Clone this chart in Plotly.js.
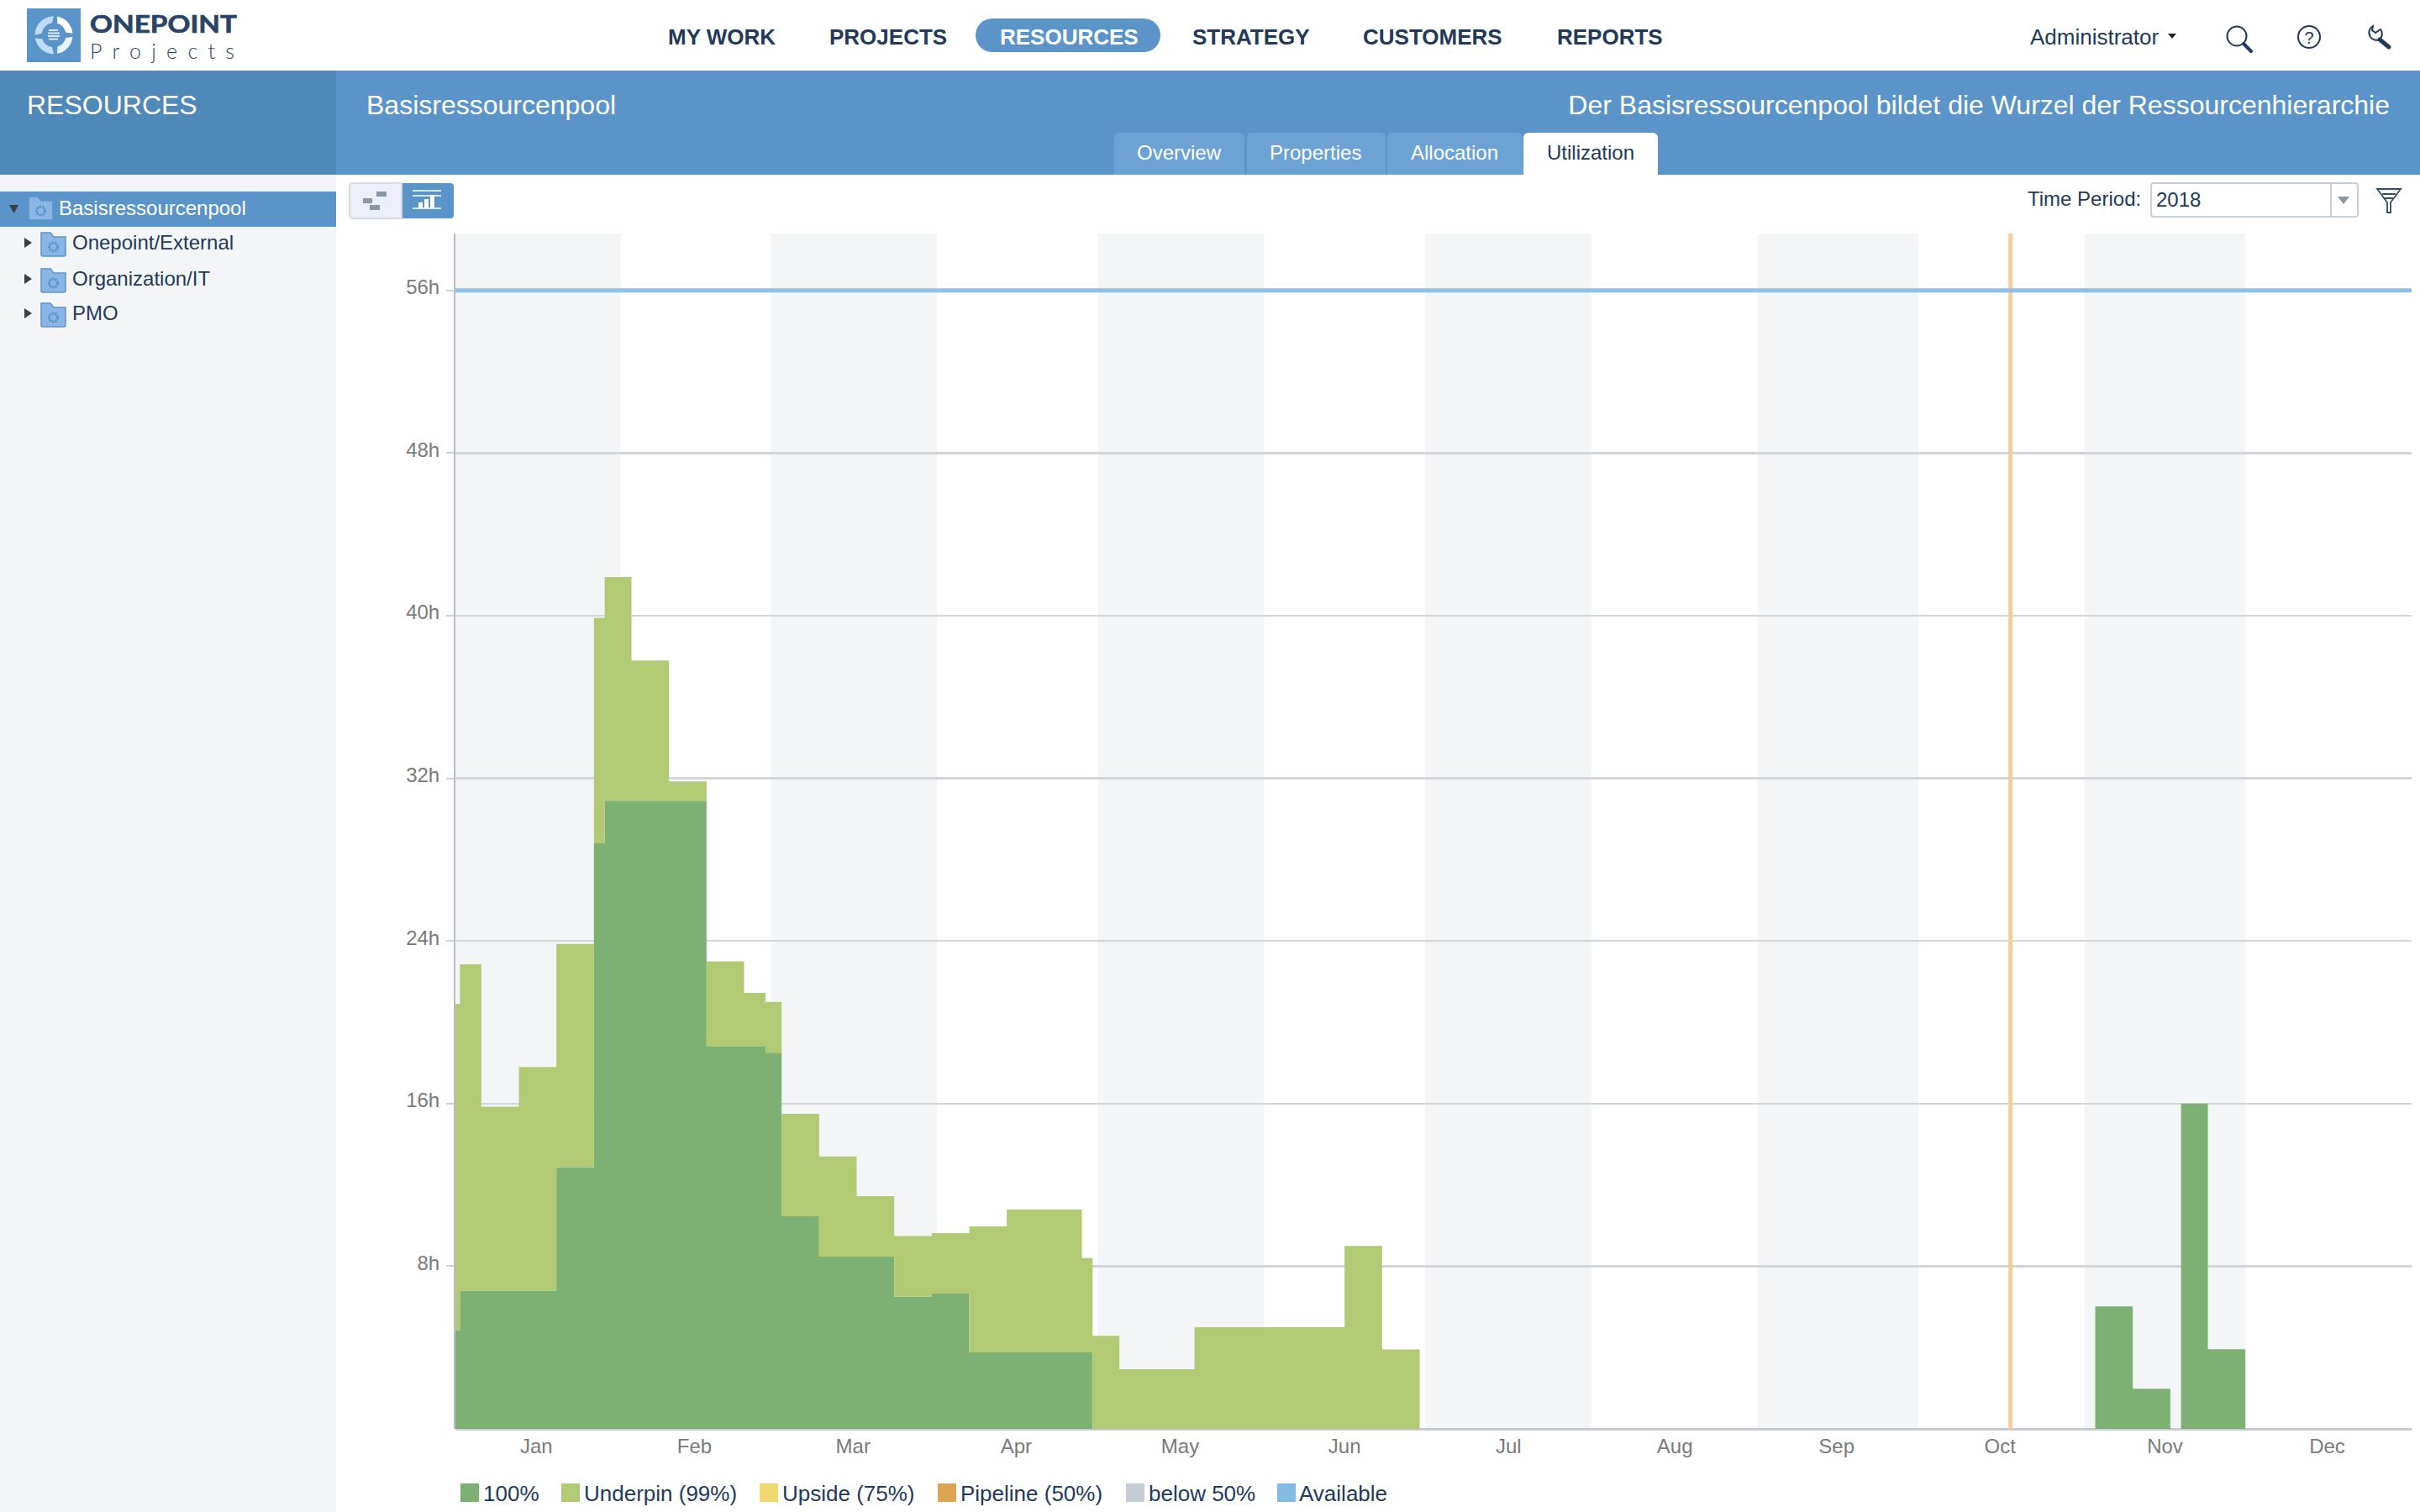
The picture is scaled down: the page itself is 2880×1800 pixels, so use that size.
<!DOCTYPE html>
<html><head><meta charset="utf-8">
<script src="https://cdn.plot.ly/plotly-3.0.1.min.js"></script>
<style>
html,body{margin:0;padding:0;background:#fff}
body{width:2880px;height:1800px;position:relative;overflow:hidden;font-family:"Liberation Sans",Arial,sans-serif;color:#23395b}
.a{position:absolute;white-space:nowrap;line-height:1}
.box{position:absolute}
#chart{position:absolute;left:0;top:0;width:2880px;height:1800px}
svg.chrome{position:absolute;left:0;top:0;pointer-events:none}
</style></head><body>
<div class="box" style="left:0;top:84px;width:400px;height:124px;background:#4f89ba"></div>
<div class="box" style="left:400px;top:84px;width:2480px;height:124px;background:#5b94c8"></div>
<div class="box" style="left:0;top:208px;width:400px;height:1592px;background:#f4f5f7"></div>
<div class="box" style="left:0;top:228px;width:400px;height:42px;background:#5b94c8"></div>
<div class="box" style="left:1161px;top:22px;width:220px;height:40px;border-radius:20px;background:#5b94c8"></div>
<div id="chart"></div>
<div id="chrome"></div>
<svg class="chrome" width="2880" height="1800" viewBox="0 0 2880 1800" id="icons"></svg>
<script>
// ---- chart data ----
const stepDates = ['2018-01-01','2018-01-02','2018-01-06','2018-01-13','2018-01-20','2018-01-27','2018-01-29','2018-02-03','2018-02-10','2018-02-17','2018-02-24','2018-02-28','2018-03-03','2018-03-10','2018-03-17','2018-03-24','2018-03-31','2018-04-07','2018-04-14','2018-04-28','2018-04-30','2018-05-05','2018-05-19','2018-06-16','2018-06-23','2018-06-30','2018-11-03','2018-11-10','2018-11-17','2018-11-19','2018-11-24','2018-12-01'];
const full100 = [4.83,6.8,6.8,6.8,12.87,28.8,30.9,30.9,30.9,18.8,18.8,18.5,10.45,8.47,8.47,6.5,6.65,3.76,3.76,3.76,0,0,0,0,0,0,6.02,1.97,0,16,3.92,0];
const underpin99 = [16.07,16.05,9.05,11,10.98,11.1,11,6.9,0.95,4.2,2.65,2.5,5.05,4.93,2.98,2.98,2.98,6.2,7.04,4.64,4.58,2.93,5,9,3.9,0,0,0,0,0,0,0];
const availableDates = ['2018-01-01','2019-01-01'];
const availableHours = [56,56];
const todayDates = ['2018-10-18 05:00','2018-10-18 05:00'];
const todayHours = [0,58.8];
const hourTicks = [8,16,24,32,40,48,56];
const hourLabels = ['8h','16h','24h','32h','40h','48h','56h'];
const monthTicks = ['2018-01-16 06:00','2018-02-14 18:00','2018-03-16 08:00','2018-04-15 18:00','2018-05-16 08:00','2018-06-16','2018-07-16 14:00','2018-08-16 14:00','2018-09-15 18:00','2018-10-16 06:00','2018-11-16','2018-12-16 06:00'];
const monthLabels = ['Jan','Feb','Mar','Apr','May','Jun','Jul','Aug','Sep','Oct','Nov','Dec'];
const bandStarts = ['2018-01-01','2018-03-01','2018-05-01','2018-07-01','2018-09-01','2018-11-01'];
const bandEnds = ['2018-02-01','2018-04-01','2018-06-01','2018-08-01','2018-10-01','2018-12-01'];
const legendNames = ['100%','Underpin (99%)','Upside (75%)','Pipeline (50%)','below 50%','Available'];
const legendColors = ['#7db073','#b3ca75','#efd970','#dea456','#c5ccd6','#84bbe2'];
const legendSwatchX = [548,668,904,1116,1340,1520];
const legendTextX = [575,695,931,1143,1367,1546];

// ---- application chrome text ----
const navNames = ['MY WORK','PROJECTS','RESOURCES','STRATEGY','CUSTOMERS','REPORTS'];
const navX = [795,987,1190,1419,1622,1853];
const tabNames = ['Overview','Properties','Allocation','Utilization'];
const tabLeft = [1326,1484,1651,1813];
const tabRight = [1481,1649,1812,1973];
const treeNames = ['Onepoint/External','Organization/IT','PMO'];
const treeY = [289,332,373];

const traces = [
 {x:todayDates,y:todayHours,type:'scatter',mode:'lines',name:'Today',line:{color:'#f8cb9a',width:5},showlegend:false},
 {x:stepDates,y:full100,type:'scatter',mode:'lines',name:legendNames[0],stackgroup:'load',line:{shape:'hv',width:0,color:legendColors[0]},fillcolor:legendColors[0],showlegend:false},
 {x:stepDates,y:underpin99,type:'scatter',mode:'lines',name:legendNames[1],stackgroup:'load',line:{shape:'hv',width:0,color:legendColors[1]},fillcolor:legendColors[1],showlegend:false},
 {x:availableDates,y:availableHours,type:'scatter',mode:'lines',name:legendNames[5],line:{color:'#8fc0e6',width:5},showlegend:false}
];
const layout = {
 width:2880,height:1800,paper_bgcolor:'rgba(0,0,0,0)',plot_bgcolor:'rgba(0,0,0,0)',
 margin:{l:542,r:10,t:278,b:98.5,pad:0},showlegend:false,
 font:{family:'"Liberation Sans",Arial,sans-serif',size:24,color:'#7a7a7a'},
 xaxis:{type:'date',range:['2018-01-01 04:00','2019-01-01'],tickmode:'array',tickvals:monthTicks,ticktext:monthLabels,ticks:'',showgrid:false,showline:false,zeroline:false,tickangle:0,tickfont:{size:24,color:'#7a7a7a'},ticklabelstandoff:4},
 yaxis:{range:[0,58.8],tickmode:'array',tickvals:hourTicks,ticktext:hourLabels,ticks:'outside',ticklen:9,tickwidth:2,tickcolor:'#cfd2d6',showgrid:true,gridcolor:'#d2d5da',gridwidth:2.5,showline:true,linecolor:'#b9bcc1',linewidth:2,zeroline:true,zerolinecolor:'#c6cbd3',zerolinewidth:3,tickfont:{size:24,color:'#7a7a7a'},ticklabelstandoff:3,ticklabelshift:-4},
 shapes:bandStarts.map((s,i)=>({type:'rect',xref:'x',yref:'paper',x0:s,x1:bandEnds[i],y0:0,y1:1,fillcolor:'#f4f5f7',line:{width:0},layer:'below'}))
};
Plotly.newPlot('chart',traces,layout,{displayModeBar:false,staticPlot:true});

// ---- chrome helpers ----
const host=document.getElementById('chrome');
function txt(s,x,cy,size,color,opt){opt=opt||{};const d=document.createElement('div');d.className='a';d.textContent=s;
 d.style.cssText+=`font-size:${size}px;color:${color};top:${cy-size/2}px;`+(opt.right!==undefined?`right:${2880-opt.right}px;`:`left:${x}px;`)+(opt.bold?'font-weight:bold;':'')+(opt.extra||'');host.appendChild(d);}
function box(x,y,w,h,css){const d=document.createElement('div');d.className='box';d.style.cssText=`left:${x}px;top:${y}px;width:${w}px;height:${h}px;`+css;host.appendChild(d);}
navNames.forEach((n,i)=>txt(n,navX[i],44,26,n==='RESOURCES'?'#fff':'#23395b',{bold:true}));
txt('Administrator',2416,44,26,'#23395b');
txt('RESOURCES',32,125,32,'#fff');
txt('Basisressourcenpool',436,125,32,'#fff');
txt('Der Basisressourcenpool bildet die Wurzel der Ressourcenhierarchie',0,125,32,'#fff',{right:2844});
tabNames.forEach((n,i)=>{box(tabLeft[i],158,tabRight[i]-tabLeft[i],50,`background:${i===3?'#fff':'#6ca3d4'};border-radius:6px 6px 0 0;`);});
[1353,1511,1679,1841].forEach((x,i)=>txt(tabNames[i],x,182,24,i===3?'#23395b':'#fff'));
txt('Basisressourcenpool',70,248,24,'#fff');
treeNames.forEach((n,i)=>txt(n,86,treeY[i],24,'#23395b'));
txt('Time Period:',2413,237,24,'#23395b');
box(2559,217,244,38,'border:2px solid #c6d0dc;border-radius:4px;background:#fff;');
box(2773,219,2,38,'background:#c6d0dc;');
txt('2018',2566,237.5,24,'#23395b');
legendNames.forEach((n,i)=>{box(legendSwatchX[i],1766,22,22,`background:${legendColors[i]};`);txt(n,legendTextX[i],1778,26,'#23395b');});

// ---- icons ----
function folder(x,y){return `<path d="M${x} ${y+6}v-6h11l4 5h14v21a2 2 0 0 1-2 2h-25a2 2 0 0 1-2-2z" fill="#8ab6e6" stroke="#5b94c8" stroke-width="1.5"/><circle cx="${x+14.5}" cy="${y+17}" r="5" fill="none" stroke="#5b94c8" stroke-width="3" stroke-dasharray="2.500 1"/>`;}
function ringSeg(a0,a1,fill){const c=[64,41.7],R=22.5,r=14.5,p=(ra,an)=>[(c[0]+ra*Math.cos(an*Math.PI/180)).toFixed(2),(c[1]+ra*Math.sin(an*Math.PI/180)).toFixed(2)].join(' ');
 return `<path d="M${p(R,a0)}A${R} ${R} 0 0 1 ${p(R,a1)}L${p(r,a1-8)}A${r} ${r} 0 0 0 ${p(r,a0+8)}Z" fill="${fill}"/>`;}
let g='';
g+=`<rect x="32" y="10" width="64" height="64" fill="#5b94c8"/>`;
g+=ringSeg(-80,-5,'#ffffff')+ringSeg(5,80,'#e6f2fc')+ringSeg(90,170,'#bcdcf7')+ringSeg(180,270,'#bcdcf7');
g+=`<path d="M58 36h11M57 39.500h14M57 43h14M58 46.500h11" stroke="#d7e9f8" stroke-width="2"/>`;
g+=`<text x="107" y="38.500" font-family="Lato,sans-serif" font-weight="700" font-size="29" fill="#2a4466" stroke="#2a4466" stroke-width="0.7" textLength="175" lengthAdjust="spacingAndGlyphs">ONEPOINT</text>`;
g+=`<text x="107" y="69.500" font-family="Lato,sans-serif" font-weight="300" font-size="25" fill="#2f4666" textLength="172">Projects</text>`;
g+=`<path d="M2580 40h10l-5 6z" fill="#222"/>`;
g+=`<circle cx="2662" cy="43" r="11.5" fill="none" stroke="#23395b" stroke-width="2"/><path d="M2670 52l9 9" stroke="#23395b" stroke-width="4" stroke-linecap="round"/>`;
g+=`<circle cx="2748" cy="44" r="13" fill="none" stroke="#23395b" stroke-width="2"/><text x="2748" y="52" font-size="20" text-anchor="middle" fill="#23395b" font-family="Liberation Sans">?</text>`;
g+=`<path d="M2824 31a9 9 0 0 0-3 13 9 9 0 0 0 11 3 9 9 0 0 0 1-12l-6 4-4-3z" fill="none" stroke="#23395b" stroke-width="2"/><path d="M2832 47l11 9" stroke="#23395b" stroke-width="5" stroke-linecap="round"/>`;
g+=`<path d="M11 244h11l-5.500 10z" fill="#3a3f47"/>`;
treeY.forEach(y=>{g+=`<path d="M29 ${y-6}l9 6-9 6z" fill="#3a3f47"/>`;});
g+=folder(34,234);
treeY.forEach(y=>{g+=folder(49,y-12);});
g+=`<path d="M478 218h58a4 4 0 0 1 4 4v34a4 4 0 0 1-4 4h-58z" fill="#5b94c8"/><path d="M478 218h-58a4 4 0 0 0-4 4v34a4 4 0 0 0 4 4h58z" fill="#eceff5" stroke="#d6dbe3" stroke-width="2"/>`;
g+=`<rect x="432" y="236" width="11" height="6" fill="#8a95a5"/><rect x="448" y="228" width="12" height="6" fill="#8a95a5"/><rect x="440" y="244" width="12" height="6" fill="#8a95a5"/>`;
g+=`<path d="M491 227h34M491 233h34M491 248h34" stroke="#fff" stroke-width="1.500"/><rect x="498" y="241" width="5" height="7" fill="#fff"/><rect x="505" y="237" width="5" height="11" fill="#fff"/><rect x="512" y="232" width="5" height="16" fill="#fff"/>`;
g+=`<path d="M2782 234h14l-7 9z" fill="#8a95a5"/>`;
g+=`<path d="M2829 225h28l-12 16v12h-4v-12z" fill="none" stroke="#3a4a60" stroke-width="1.800"/><path d="M2835 231h16M2838 236h10" stroke="#3a4a60" stroke-width="1.800"/>`;
document.getElementById('icons').innerHTML=g;
</script>
</body></html>
